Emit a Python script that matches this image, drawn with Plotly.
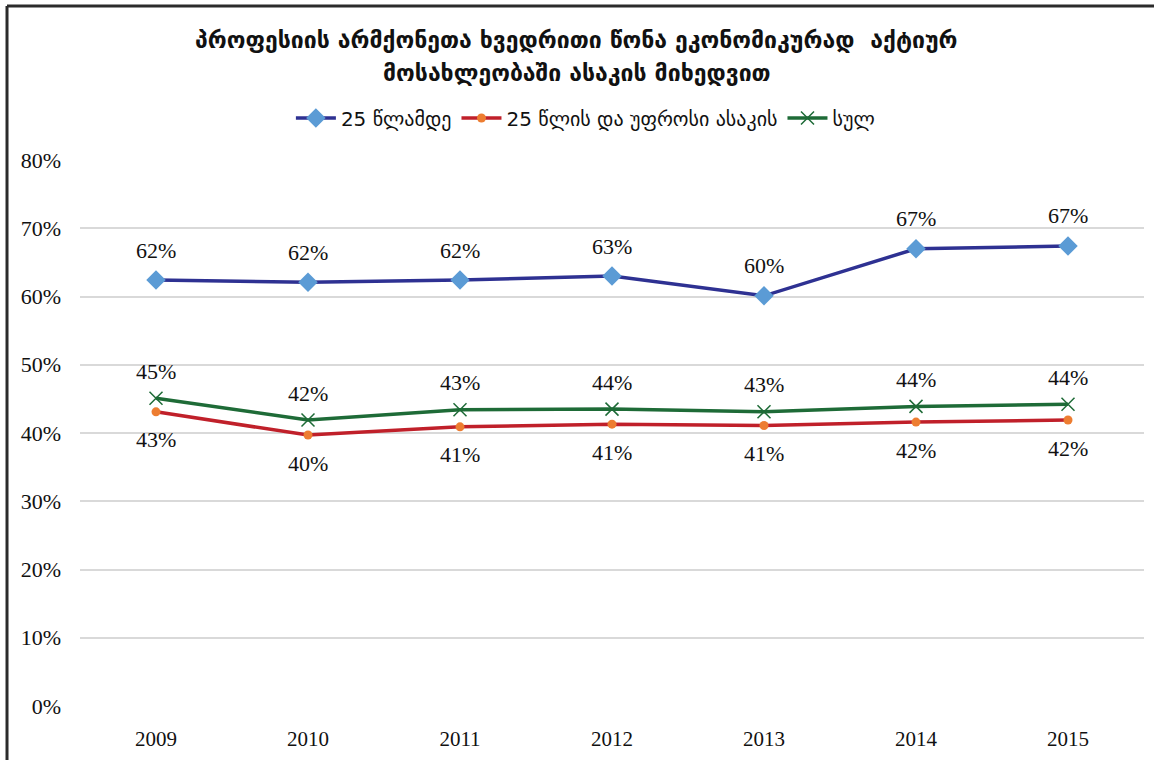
import plotly.graph_objects as go

# Chart data
years = ["2009", "2010", "2011", "2012", "2013", "2014", "2015"]
under_25 = [0.624, 0.621, 0.624, 0.630, 0.601, 0.670, 0.674]
age_25_plus = [0.431, 0.397, 0.409, 0.413, 0.411, 0.416, 0.419]
total = [0.451, 0.419, 0.434, 0.435, 0.431, 0.439, 0.442]

series_names = ["25 წლამდე", "25 წლის და უფროსი ასაკის", "სულ"]
title_lines = [
    "პროფესიის არმქონეთა ხვედრითი წონა ეკონომიკურად  აქტიურ",
    "მოსახლეობაში ასაკის მიხედვით",
]
y_ticks = [0, 0.1, 0.2, 0.3, 0.4, 0.5, 0.6, 0.7, 0.8]

SERIF = "Liberation Serif, DejaVu Serif, serif"
GEO = "DejaVu Sans, sans-serif"
LABEL_FONT = dict(family=SERIF, size=22, color="#111111")


def pct(vals):
    return [f"{round(v * 100):.0f}%" for v in vals]


fig = go.Figure()

fig.add_trace(go.Scatter(
    x=years, y=under_25, name=series_names[0],
    mode="lines+markers",
    line=dict(color="#2E3192", width=3.5),
    marker=dict(symbol="diamond", size=15, color="#5B9BD5"),
))

fig.add_trace(go.Scatter(
    x=years, y=age_25_plus, name=series_names[1],
    mode="lines+markers",
    line=dict(color="#C0202A", width=3.5),
    marker=dict(symbol="circle", size=9, color="#ED7D31"),
))

fig.add_trace(go.Scatter(
    x=years, y=total, name=series_names[2],
    mode="lines+markers",
    line=dict(color="#1E6B37", width=3.5),
    marker=dict(symbol="x-thin", size=13, color="#1E6B37",
                line=dict(color="#1E6B37", width=1.5)),
))

# Value labels: above for the first and third series, below for the second
for vals, shift in [(under_25, 30), (age_25_plus, -28), (total, 27)]:
    for i, (v, t) in enumerate(zip(vals, pct(vals))):
        fig.add_annotation(
            xref="x", yref="y", x=i, y=v, text=t, showarrow=False,
            yshift=shift, xanchor="center", yanchor="middle",
            font=LABEL_FONT,
        )

# Two-line title
for line, ypos in zip(title_lines, [1.2198, 1.159]):
    fig.add_annotation(
        text=f"<b>{line}</b>", xref="paper", x=0.467, yref="paper", y=ypos,
        xanchor="center", yanchor="middle", showarrow=False,
        font=dict(family=GEO, size=23, color="#111111"),
    )

# Frame lines along the top and left edges
frame = dict(color="#2b2b2b", width=3)
fig.add_shape(type="line", xref="paper", yref="paper",
              x0=-0.0686, x1=1.01, y0=1.282, y1=1.282, line=frame)
fig.add_shape(type="line", xref="paper", yref="paper",
              x0=-0.0686, x1=-0.0686, y0=1.282, y1=-0.1, line=frame)

fig.update_layout(
    width=1154, height=760,
    margin=dict(l=80, r=10, t=160, b=54),
    paper_bgcolor="white", plot_bgcolor="white",
    showlegend=True,
    legend=dict(
        orientation="h", xref="paper", x=0.475, xanchor="center",
        yref="paper", y=1.077, yanchor="middle",
        font=dict(family=GEO, size=20, color="#111111"),
        itemwidth=40, tracegroupgap=0,
    ),
    xaxis=dict(
        type="category", range=[-0.5, 6.5],
        showgrid=False, zeroline=False, showline=False,
        ticks="", ticklabelstandoff=18,
        tickfont=dict(family=SERIF, size=21, color="#111111"),
    ),
    yaxis=dict(
        range=[0, 0.8], tickvals=y_ticks, tickformat=".0%",
        showgrid=True, gridcolor="#D9D9D9", gridwidth=1.5,
        zeroline=False, showline=False, ticks="", ticklabelstandoff=18,
        tickfont=dict(family=SERIF, size=22, color="#111111"),
    ),
)

fig.write_html("out.html")
